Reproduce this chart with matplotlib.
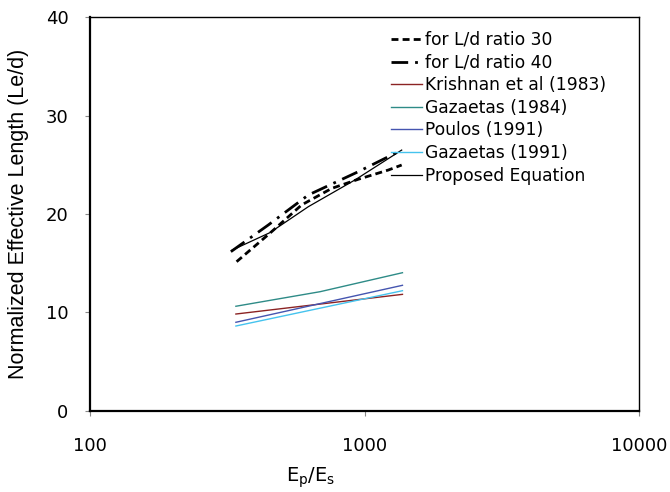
import matplotlib
matplotlib.use('Agg')
import matplotlib.pyplot as plt

#region data
ld30_x = [342, 452, 590, 759, 949, 1221, 1366]
ld30_y = [15.15, 18.04, 20.92, 22.6, 23.53, 24.47, 24.98]

ld40_x = [326, 446, 624, 949, 1366]
ld40_y = [16.17, 18.88, 21.93, 24.3, 26.5]

krishnan_x = [340, 1375]
krishnan_y = [9.83, 11.83]

gaz84_x = [340, 689, 1375]
gaz84_y = [10.62, 12.1, 14.03]

poulos_x = [340, 1375]
poulos_y = [8.99, 12.75]

gaz91_x = [340, 1375]
gaz91_y = [8.61, 12.2]

proposed_x = [330, 452, 624, 923, 1366]
proposed_y = [16.34, 18.1, 20.74, 23.46, 26.5]

x_ticks = [100, 1000, 10000]
y_ticks = [0, 10, 20, 30, 40]
#endregion

plt.rcParams['font.family'] = ['DejaVu Sans']

fig = plt.figure(figsize=(6.7, 4.92), dpi=100)
ax = fig.add_axes([90 / 670, 1 - 410.7 / 492, 549 / 670, 393.4 / 492])

ax.plot(ld30_x, ld30_y, color='black', lw=2, dashes=(2.5, 1.5), label='for L/d ratio 30')
ax.plot(ld40_x, ld40_y, color='black', lw=2, dashes=(6, 2.5, 1, 2.5), label='for L/d ratio 40')
ax.plot(krishnan_x, krishnan_y, color='#8B2323', lw=1, label='Krishnan et al (1983)')
ax.plot(gaz84_x, gaz84_y, color='#2E8B87', lw=1, label='Gazaetas (1984)')
ax.plot(poulos_x, poulos_y, color='#4555B0', lw=1, label='Poulos (1991)')
ax.plot(gaz91_x, gaz91_y, color='#45C3EE', lw=1, label='Gazaetas (1991)')
ax.plot(proposed_x, proposed_y, color='black', lw=0.9, label='Proposed Equation')

ax.set_xscale('log')
ax.set_xlim(100, 10000)
ax.set_ylim(0, 40)
ax.set_xticks(x_ticks)
ax.set_xticklabels([str(t) for t in x_ticks])
ax.xaxis.set_minor_locator(matplotlib.ticker.NullLocator())
ax.set_yticks(y_ticks)

ax.tick_params(axis='both', direction='out', length=3.6, width=0.8, color='#888888',
               labelsize=13)
ax.tick_params(axis='x', pad=15)
ax.tick_params(axis='y', pad=12)

for side in ('left', 'bottom'):
  ax.spines[side].set_linewidth(1.6)
for side in ('top', 'right'):
  ax.spines[side].set_linewidth(1.0)

ax.set_ylabel('Normalized Effective Length (Le/d)', family='Liberation Sans', fontsize=15.5)
ax.yaxis.set_label_coords(-(90 - 29) / 549, 0.5)
ax.set_xlabel(r'E$_\mathregular{p}$/E$_\mathregular{s}$', fontsize=14)
ax.xaxis.set_label_coords((311 - 90) / 549, -(465 - 410.7) / 393.4)

ax.legend(loc='upper left', bbox_to_anchor=(391 / 670, 1 - 31 / 492),
          bbox_transform=fig.transFigure, frameon=False, fontsize=12.3,
          borderpad=0, borderaxespad=0, handlelength=1.8, handletextpad=0.2,
          labelspacing=0.27)

fig.savefig('out.png', dpi=100)
